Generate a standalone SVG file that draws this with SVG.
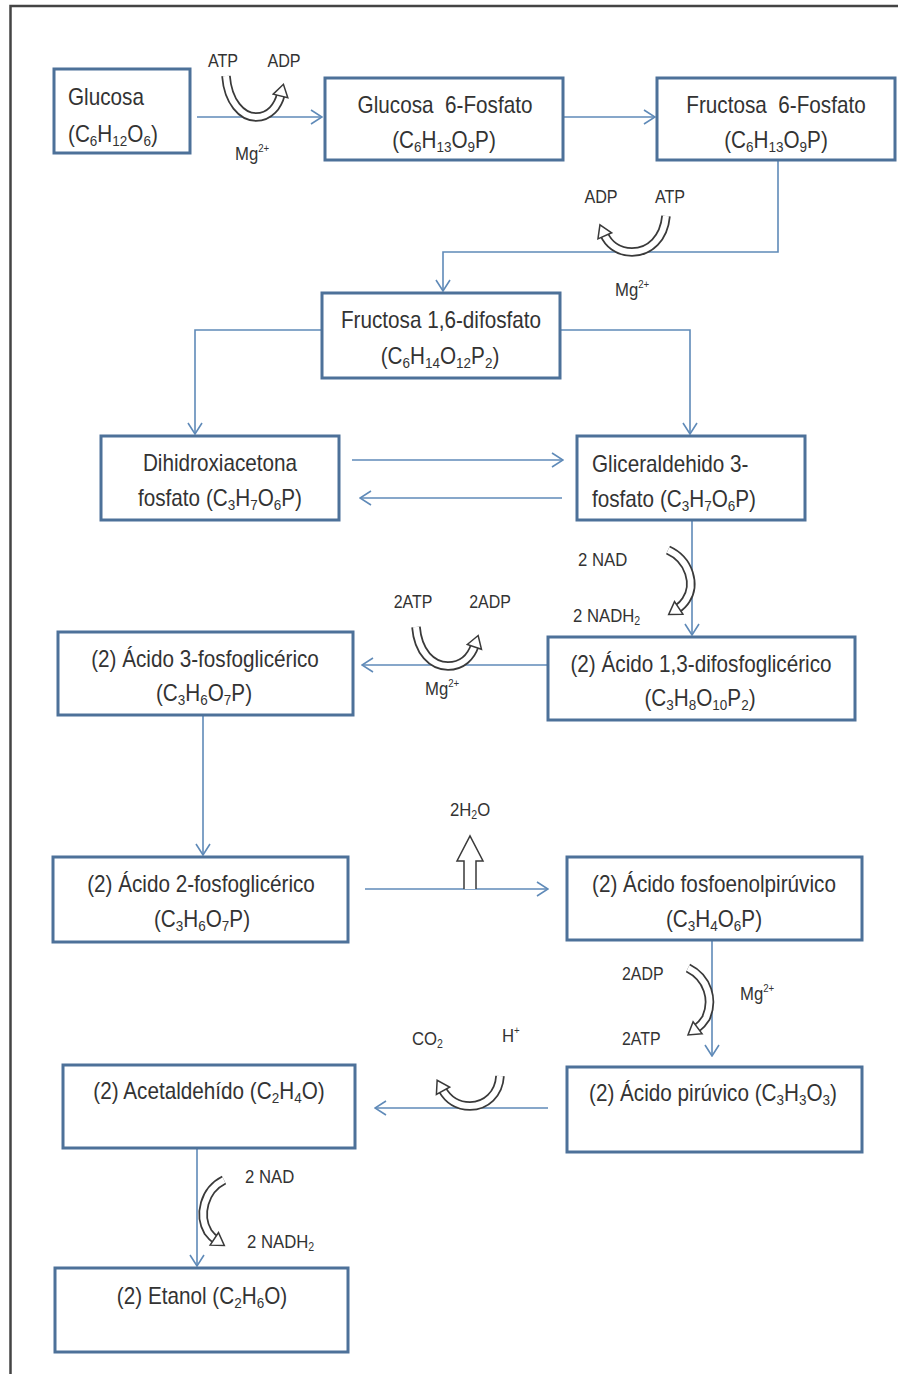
<svg xmlns="http://www.w3.org/2000/svg" width="898" height="1374" viewBox="0 0 898 1374">
<style>
.box{fill:#fff;stroke:#4d7199;stroke-width:3}
.t{font-family:"Liberation Sans",Arial,sans-serif;font-size:23px;fill:#333}
.l{font-family:"Liberation Sans",Arial,sans-serif;font-size:19px;fill:#333}
.s{font-size:15px;baseline-shift:-4px}
.ls{font-size:12px;baseline-shift:-3px}
.sup{font-size:11px;baseline-shift:9px}
.mid{text-anchor:middle}
.con{fill:none;stroke:#5f8ab8;stroke-width:1.6}
.bo{fill:none;stroke:#3a3a3a;stroke-width:9.5}
.bi{fill:none;stroke:#fff;stroke-width:6}
</style>
<defs>
<marker id="ah" markerUnits="userSpaceOnUse" viewBox="-1 -8 13 16" markerWidth="13" markerHeight="16" refX="11" refY="0" orient="auto">
<path d="M0,-7 L11,0 L0,7" fill="none" stroke="#5f8ab8" stroke-width="1.6"/>
</marker>
<marker id="bh" markerUnits="userSpaceOnUse" viewBox="-2 -9 16 18" markerWidth="16" markerHeight="18" refX="2" refY="0" orient="auto">
<path d="M0,-7.5 L12,0 L0,7.5 Z" fill="#fff" stroke="#3a3a3a" stroke-width="1.5"/>
</marker>
</defs>
<rect width="898" height="1374" fill="#fff"/>
<path d="M10.5,1374 V6 H898" fill="none" stroke="#444" stroke-width="2.5"/>

<g id="connectors">
<path class="con" d="M197,117 H322" marker-end="url(#ah)"/>
<path class="con" d="M563,117 H655" marker-end="url(#ah)"/>
<path class="con" d="M778,160 V252 H443 V291" marker-end="url(#ah)"/>
<path class="con" d="M322,330 H195 V434" marker-end="url(#ah)"/>
<path class="con" d="M560,330 H690 V434" marker-end="url(#ah)"/>
<path class="con" d="M352,460 H563" marker-end="url(#ah)"/>
<path class="con" d="M562,498 H360" marker-end="url(#ah)"/>
<path class="con" d="M692,520 V635" marker-end="url(#ah)"/>
<path class="con" d="M548,665 H362" marker-end="url(#ah)"/>
<path class="con" d="M203,715 V855" marker-end="url(#ah)"/>
<path class="con" d="M365,889 H548" marker-end="url(#ah)"/>
<path class="con" d="M712,940 V1056" marker-end="url(#ah)"/>
<path class="con" d="M548,1108 H375" marker-end="url(#ah)"/>
<path class="con" d="M197,1148 V1266" marker-end="url(#ah)"/>
</g>

<g id="cofactors">
<path class="bo" d="M226,76 C228,102 242,117 256,117 C270,117 278,106 281,94"/>
<path class="bi" d="M226,76 C228,102 242,117 256,117 C270,117 278,106 281,94" marker-end="url(#bh)"/>
<text class="l mid" transform="translate(223,67) scale(0.85,1)">ATP</text>
<text class="l mid" transform="translate(284,67) scale(0.85,1)">ADP</text>
<text class="l" transform="translate(235,160) scale(0.88,1)">Mg<tspan class="sup">2+</tspan></text>

<path class="bo" d="M666,216 C664,238 650,252 632,252 C617,252 608,243 604,234"/>
<path class="bi" d="M666,216 C664,238 650,252 632,252 C617,252 608,243 604,234" marker-end="url(#bh)"/>
<text class="l mid" transform="translate(601,203) scale(0.85,1)">ADP</text>
<text class="l mid" transform="translate(670,203) scale(0.85,1)">ATP</text>
<text class="l" transform="translate(615,296) scale(0.88,1)">Mg<tspan class="sup">2+</tspan></text>

<path class="bo" d="M668,550 C690,560 696,585 686,600 C683,605 680,607 677,609"/>
<path class="bi" d="M668,550 C690,560 696,585 686,600 C683,605 680,607 677,609" marker-end="url(#bh)"/>
<text class="l" transform="translate(578,566) scale(0.88,1)">2 NAD</text>
<text class="l" transform="translate(573,622) scale(0.88,1)">2 NADH<tspan class="ls">2</tspan></text>

<path class="bo" d="M416,627 C418,652 432,666 448,666 C462,666 471,657 475,645"/>
<path class="bi" d="M416,627 C418,652 432,666 448,666 C462,666 471,657 475,645" marker-end="url(#bh)"/>
<text class="l mid" transform="translate(413,608) scale(0.84,1)">2ATP</text>
<text class="l mid" transform="translate(490,608) scale(0.84,1)">2ADP</text>
<text class="l" transform="translate(425,695) scale(0.88,1)">Mg<tspan class="sup">2+</tspan></text>

<path d="M464,889 V861 H457 L470,836 L483,861 H476 V889" fill="#fff" stroke="#3a3a3a" stroke-width="1.5"/>
<text class="l" transform="translate(450,816) scale(0.88,1)">2H<tspan class="ls">2</tspan><tspan>O</tspan></text>

<path class="bo" d="M688,968 C708,978 714,1000 706,1018 C703,1023 700,1026 696,1029"/>
<path class="bi" d="M688,968 C708,978 714,1000 706,1018 C703,1023 700,1026 696,1029" marker-end="url(#bh)"/>
<text class="l" transform="translate(622,980) scale(0.84,1)">2ADP</text>
<text class="l" transform="translate(622,1045) scale(0.84,1)">2ATP</text>
<text class="l" transform="translate(740,1000) scale(0.88,1)">Mg<tspan class="sup">2+</tspan></text>

<path class="bo" d="M500,1076 C499,1094 486,1106 470,1106 C456,1106 447,1098 442,1089"/>
<path class="bi" d="M500,1076 C499,1094 486,1106 470,1106 C456,1106 447,1098 442,1089" marker-end="url(#bh)"/>
<text class="l" transform="translate(412,1045) scale(0.88,1)">CO<tspan class="ls">2</tspan></text>
<text class="l" transform="translate(502,1042) scale(0.88,1)">H<tspan class="sup">+</tspan></text>

<path class="bo" d="M224,1180 C204,1190 198,1215 208,1232 C211,1236 213,1238 216,1240"/>
<path class="bi" d="M224,1180 C204,1190 198,1215 208,1232 C211,1236 213,1238 216,1240" marker-end="url(#bh)"/>
<text class="l" transform="translate(245,1183) scale(0.88,1)">2 NAD</text>
<text class="l" transform="translate(247,1248) scale(0.88,1)">2 NADH<tspan class="ls">2</tspan></text>
</g>

<g id="glucosa">
<rect class="box" x="54" y="69" width="136" height="84"/>
<text class="t" transform="translate(68,105) scale(0.9,1)">Glucosa</text>
<text class="t" transform="translate(68,142) scale(0.9,1)">(C<tspan class="s">6</tspan><tspan>H</tspan><tspan class="s">12</tspan><tspan>O</tspan><tspan class="s">6</tspan><tspan>)</tspan></text>
</g>

<g id="glucosa6p">
<rect class="box" x="325" y="78" width="238" height="82"/>
<text class="t mid" transform="translate(445,113) scale(0.9,1)" xml:space="preserve">Glucosa  6-Fosfato</text>
<text class="t mid" transform="translate(444,148) scale(0.9,1)">(C<tspan class="s">6</tspan><tspan>H</tspan><tspan class="s">13</tspan><tspan>O</tspan><tspan class="s">9</tspan><tspan>P)</tspan></text>
</g>

<g id="fructosa6p">
<rect class="box" x="657" y="78" width="238" height="82"/>
<text class="t mid" transform="translate(776,113) scale(0.9,1)" xml:space="preserve">Fructosa  6-Fosfato</text>
<text class="t mid" transform="translate(776,148) scale(0.9,1)">(C<tspan class="s">6</tspan><tspan>H</tspan><tspan class="s">13</tspan><tspan>O</tspan><tspan class="s">9</tspan><tspan>P)</tspan></text>
</g>

<g id="fructosa16dp">
<rect class="box" x="322" y="293" width="238" height="85"/>
<text class="t mid" transform="translate(441,328) scale(0.9,1)">Fructosa 1,6-difosfato</text>
<text class="t mid" transform="translate(440,364) scale(0.9,1)">(C<tspan class="s">6</tspan><tspan>H</tspan><tspan class="s">14</tspan><tspan>O</tspan><tspan class="s">12</tspan><tspan>P</tspan><tspan class="s">2</tspan><tspan>)</tspan></text>
</g>

<g id="dhap">
<rect class="box" x="101" y="436" width="238" height="84"/>
<text class="t mid" transform="translate(220,471) scale(0.9,1)">Dihidroxiacetona</text>
<text class="t mid" transform="translate(220,506) scale(0.9,1)">fosfato (C<tspan class="s">3</tspan><tspan>H</tspan><tspan class="s">7</tspan><tspan>O</tspan><tspan class="s">6</tspan><tspan>P)</tspan></text>
</g>

<g id="g3p">
<rect class="box" x="577" y="436" width="228" height="84"/>
<text class="t" transform="translate(592,472) scale(0.9,1)">Gliceraldehido 3-</text>
<text class="t" transform="translate(592,507) scale(0.9,1)">fosfato (C<tspan class="s">3</tspan><tspan>H</tspan><tspan class="s">7</tspan><tspan>O</tspan><tspan class="s">6</tspan><tspan>P)</tspan></text>
</g>

<g id="acido13dpg">
<rect class="box" x="548" y="637" width="307" height="83"/>
<text class="t mid" transform="translate(701,672) scale(0.9,1)">(2) Ácido 1,3-difosfoglicérico</text>
<text class="t mid" transform="translate(700,706) scale(0.9,1)">(C<tspan class="s">3</tspan><tspan>H</tspan><tspan class="s">8</tspan><tspan>O</tspan><tspan class="s">10</tspan><tspan>P</tspan><tspan class="s">2</tspan><tspan>)</tspan></text>
</g>

<g id="acido3pg">
<rect class="box" x="58" y="632" width="295" height="83"/>
<text class="t mid" transform="translate(205,667) scale(0.9,1)">(2) Ácido 3-fosfoglicérico</text>
<text class="t mid" transform="translate(204,701) scale(0.9,1)">(C<tspan class="s">3</tspan><tspan>H</tspan><tspan class="s">6</tspan><tspan>O</tspan><tspan class="s">7</tspan><tspan>P)</tspan></text>
</g>

<g id="acido2pg">
<rect class="box" x="53" y="857" width="295" height="85"/>
<text class="t mid" transform="translate(201,892) scale(0.9,1)">(2) Ácido 2-fosfoglicérico</text>
<text class="t mid" transform="translate(202,927) scale(0.9,1)">(C<tspan class="s">3</tspan><tspan>H</tspan><tspan class="s">6</tspan><tspan>O</tspan><tspan class="s">7</tspan><tspan>P)</tspan></text>
</g>

<g id="pep">
<rect class="box" x="567" y="857" width="295" height="83"/>
<text class="t mid" transform="translate(714,892) scale(0.9,1)">(2) Ácido fosfoenolpirúvico</text>
<text class="t mid" transform="translate(714,927) scale(0.9,1)">(C<tspan class="s">3</tspan><tspan>H</tspan><tspan class="s">4</tspan><tspan>O</tspan><tspan class="s">6</tspan><tspan>P)</tspan></text>
</g>

<g id="piruvico">
<rect class="box" x="567" y="1067" width="295" height="85"/>
<text class="t mid" transform="translate(713,1101) scale(0.9,1)">(2) Ácido pirúvico (C<tspan class="s">3</tspan><tspan>H</tspan><tspan class="s">3</tspan><tspan>O</tspan><tspan class="s">3</tspan><tspan>)</tspan></text>
</g>

<g id="acetaldehido">
<rect class="box" x="63" y="1065" width="292" height="83"/>
<text class="t mid" transform="translate(209,1099) scale(0.9,1)">(2) Acetaldehído (C<tspan class="s">2</tspan><tspan>H</tspan><tspan class="s">4</tspan><tspan>O)</tspan></text>
</g>

<g id="etanol">
<rect class="box" x="55" y="1268" width="293" height="84"/>
<text class="t mid" transform="translate(202,1304) scale(0.9,1)">(2) Etanol (C<tspan class="s">2</tspan><tspan>H</tspan><tspan class="s">6</tspan><tspan>O)</tspan></text>
</g>
</svg>
